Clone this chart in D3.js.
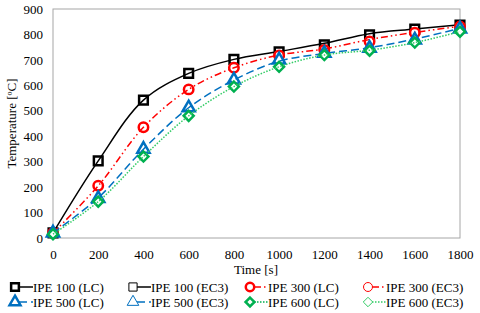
<!DOCTYPE html>
<html>
<head>
<meta charset="utf-8">
<script src="https://cdn.jsdelivr.net/npm/d3@7"></script>
<style>
  body { margin: 0; background: #fff; }
  text { font-family: "Liberation Serif", "Times New Roman", serif; }
</style>
</head>
<body>
<div id="chart"></div>
<script>
// donnees
const times = [0, 200, 400, 600, 800, 1000, 1200, 1400, 1600, 1800];
const ipe100LC = [20, 303, 542, 647, 702, 732, 759, 798, 821, 837];
const ipe100EC3 = [20, 303, 542, 647, 702, 733, 765, 803, 821, 838];
const ipe300LC = [20, 205, 435, 584, 669, 717, 739, 772, 807, 831];
const ipe300EC3 = [20, 205, 435, 584, 669, 719, 743, 780, 808, 832];
const ipe500LC = [20, 155, 349, 512, 621, 700, 726, 746, 778, 822];
const ipe500EC3 = [20, 158, 349, 512, 621, 695, 725, 748, 782, 824];
const ipe600LC = [15, 143, 320, 480, 595, 673, 719, 736, 768, 811];
const ipe600EC3 = [15, 143, 320, 480, 595, 673, 719, 738, 768, 811];
const xTicks = [0, 200, 400, 600, 800, 1000, 1200, 1400, 1600, 1800];
const yTicks = [0, 100, 200, 300, 400, 500, 600, 700, 800, 900];

const W = 480, H = 313;
const margin = { top: 9, right: 20, bottom: 75, left: 53 },
  width = W - margin.left - margin.right,
  height = H - margin.top - margin.bottom;

const series = [
  { name: "IPE 100 (LC)", values: ipe100LC, color: "#000000", shape: "square", lc: true, dash: null },
  { name: "IPE 100 (EC3)", values: ipe100EC3, color: "#000000", shape: "square", lc: false, dash: null },
  { name: "IPE 300 (LC)", values: ipe300LC, color: "#ff0000", shape: "circle", lc: true, dash: "7,3,1.5,3,1.5,3" },
  { name: "IPE 300 (EC3)", values: ipe300EC3, color: "#ff0000", shape: "circle", lc: false, dash: "7,3,1.5,3,1.5,3" },
  { name: "IPE 500 (LC)", values: ipe500LC, color: "#0070c0", shape: "triangle", lc: true, dash: "8,4" },
  { name: "IPE 500 (EC3)", values: ipe500EC3, color: "#0070c0", shape: "triangle", lc: false, dash: "8,4" },
  { name: "IPE 600 (LC)", values: ipe600LC, color: "#00b050", shape: "diamond", lc: true, dash: "1.5,1.5" },
  { name: "IPE 600 (EC3)", values: ipe600EC3, color: "#33cc66", shape: "diamond", lc: false, dash: "1.5,1.5" }
];

const svg = d3
  .select("#chart")
  .append("svg")
  .attr("width", W)
  .attr("height", H)
  .append("g")
  .attr("transform", "translate(" + margin.left + "," + margin.top + ")");

const x = d3.scaleLinear().domain([0, 1800]).range([0, width]);
const y = d3.scaleLinear().domain([0, 900]).range([height, 0]);

// cadre
svg
  .append("rect")
  .attr("width", width)
  .attr("height", height)
  .style("fill", "none")
  .style("stroke", "#a6a6a6")
  .style("stroke-width", 1);

// axes
const xAxis = svg
  .append("g")
  .attr("transform", "translate(0," + height + ")")
  .call(d3.axisBottom(x).tickValues(xTicks).tickFormat(d3.format("d")).tickSize(0).tickPadding(12))
  .attr("font-family", "Liberation Serif")
  .attr("font-size", 13);
xAxis.select(".domain").remove();

const yAxis = svg
  .append("g")
  .call(d3.axisLeft(y).tickValues(yTicks).tickFormat(d3.format("d")).tickSize(0).tickPadding(10))
  .attr("font-family", "Liberation Serif")
  .attr("font-size", 13);
yAxis.select(".domain").remove();

svg.selectAll(".tick text").attr("fill", "#000");

svg
  .append("text")
  .attr("x", 203)
  .attr("y", 265)
  .attr("text-anchor", "middle")
  .style("font-size", "13px")
  .text("Time [s]");

svg
  .append("text")
  .attr("transform", "rotate(-90)")
  .attr("x", -height / 2)
  .attr("y", -37)
  .attr("text-anchor", "middle")
  .style("font-size", "13px")
  .text("Temperature [ºC]");

function symbolPath(shape, s) {
  if (shape === "diamond") {
    const r = Math.sqrt(s) / Math.SQRT2;
    return "M0," + -r + "L" + r + ",0L0," + r + "L" + -r + ",0Z";
  }
  const types = { square: d3.symbolSquare, circle: d3.symbolCircle, triangle: d3.symbolTriangle };
  return d3.symbol().type(types[shape]).size(s)();
}
const sizes = { square: 75, circle: 70, triangle: 65, diamond: 50 };

const line = d3
  .line()
  .x((d, i) => x(times[i]))
  .y((d) => y(d))
  .curve(d3.curveCatmullRom.alpha(0.5));

series.forEach(function (s) {
  if (!s.lc) {
    svg
      .append("path")
      .datum(s.values)
      .attr("d", line)
      .style("fill", "none")
      .style("stroke", s.color)
      .style("stroke-width", 1.5)
      .style("stroke-dasharray", s.dash);
  } else {
    svg
      .selectAll(null)
      .data(s.values)
      .enter()
      .append("path")
      .attr("d", symbolPath(s.shape, sizes[s.shape]))
      .attr("transform", (d, i) => "translate(" + x(times[i]) + "," + y(d) + ")")
      .style("fill", "#fff")
      .style("stroke", s.color)
      .style("stroke-width", 2.5);
  }
});

// legende
const legX = [15, 133, 250, 368];
const legY = [287, 302];
series.forEach(function (s, i) {
  const col = i % 4;
  const row = Math.floor(i / 4);
  const g = svg
    .append("g")
    .attr("transform", "translate(" + (legX[col] - margin.left) + "," + (legY[row] - margin.top) + ")");
  g.append("line")
    .attr("x1", 4)
    .attr("x2", 18)
    .attr("y1", 0)
    .attr("y2", 0)
    .style("stroke", s.color)
    .style("stroke-width", 1.5)
    .style("stroke-dasharray", s.dash);
  g.append("path")
    .attr("d", symbolPath(s.shape, s.lc ? sizes[s.shape] * 0.8 : sizes[s.shape] * 0.9))
    .style("fill", "#fff")
    .style("stroke", s.color)
    .style("stroke-width", s.lc ? 2.5 : 1);
  g.append("text")
    .attr("x", 18)
    .attr("y", 4.5)
    .style("font-size", "13px")
    .text(s.name);
});
</script>
</body>
</html>
